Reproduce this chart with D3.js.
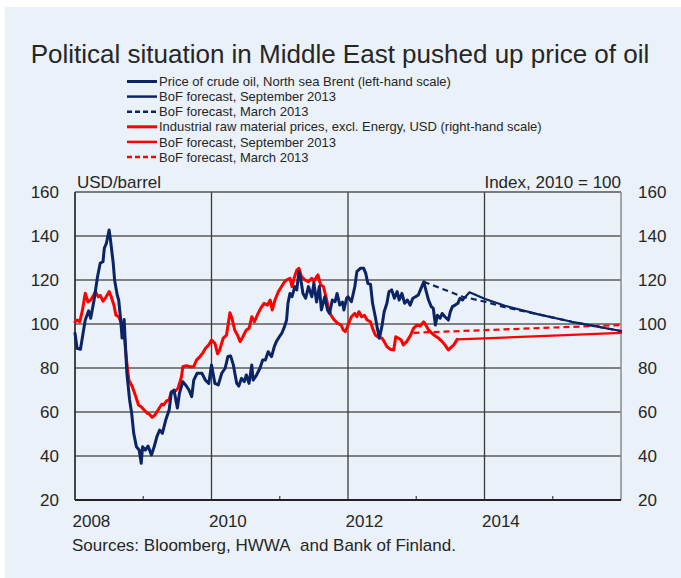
<!DOCTYPE html>
<html>
<head>
<meta charset="utf-8">
<script src="https://cdn.jsdelivr.net/npm/d3@7"></script>
<style>
  html, body { margin: 0; padding: 0; background: #ffffff; }
  svg { display: block; font-family: "Liberation Sans", Arial, Helvetica, sans-serif; }
</style>
</head>
<body>
<svg id="chart" width="681" height="578"></svg>
<script>
// ---------------- DATA ----------------
const titleText = "Political situation in Middle East pushed up price of oil";
const sourceText = "Sources: Bloomberg, HWWA\u00a0 and Bank of Finland.";
const leftUnit = "USD/barrel";
const rightUnit = "Index, 2010 = 100";
const yTicks = [20, 40, 60, 80, 100, 120, 140, 160];
const xTickYears = [2008, 2010, 2012, 2014];
const xMinorYears = [2009, 2011, 2013, 2015];

const legendLabels = [
  "Price of crude oil, North sea Brent (left-hand scale)",
  "BoF forecast, September 2013",
  "BoF forecast, March 2013",
  "Industrial raw material prices, excl. Energy, USD (right-hand scale)",
  "BoF forecast, September 2013",
  "BoF forecast, March 2013"
];

// Brent crude oil, USD/barrel (time as decimal year)
const brentTime = [
  2008.00,2008.03,2008.08,2008.15,2008.20,2008.23,2008.28,2008.33,2008.37,2008.41,2008.43,2008.46,2008.50,2008.52,2008.56,2008.58,2008.62,2008.64,2008.67,2008.69,2008.72,2008.74,2008.76,2008.80,2008.83,2008.86,2008.90,2008.94,2008.97,2008.99,
  2009.03,2009.07,2009.12,2009.16,2009.20,2009.24,2009.28,2009.33,2009.38,2009.41,2009.45,2009.50,2009.53,2009.58,2009.62,2009.67,2009.71,2009.74,2009.79,2009.86,2009.91,2009.96,
  2010.00,2010.05,2010.10,2010.15,2010.20,2010.24,2010.28,2010.32,2010.37,2010.40,2010.44,2010.48,2010.51,2010.55,2010.59,2010.61,2010.66,2010.71,2010.75,2010.79,2010.83,2010.88,2010.92,2010.95,2010.99,
  2011.03,2011.07,2011.10,2011.12,2011.15,2011.18,2011.22,2011.25,2011.28,2011.31,2011.34,2011.38,2011.42,2011.47,2011.50,2011.54,2011.58,2011.61,2011.66,2011.70,2011.73,2011.77,2011.81,2011.84,2011.88,2011.92,2011.94,2011.98,
  2012.00,2012.05,2012.10,2012.13,2012.18,2012.23,2012.26,2012.29,2012.33,2012.36,2012.40,2012.43,2012.46,2012.50,2012.53,2012.57,2012.60,2012.64,2012.68,2012.72,2012.75,2012.79,2012.83,2012.87,2012.91,2012.95,2012.99,
  2013.03,2013.07,2013.11,2013.14,2013.18,2013.22,2013.25,2013.28,2013.31,2013.35,2013.38,2013.42,2013.47,2013.50,2013.53,2013.57,2013.61,2013.64,2013.68
];
const brentValue = [
  95.8,89,88.5,101.8,106,102.6,111,121.5,127.7,128.3,134.5,136.7,142.7,138.2,127.7,120,113,110.9,101.8,93.6,102,89.7,77.7,65.5,59.5,50.4,44.2,42.7,36.7,44.2,
  42.7,44.5,40.5,44.2,48.8,51.8,50.3,56.4,61,68.6,70,61.8,68.5,73.8,72.3,70,67,74.5,77.6,77.6,74.5,73,
  81.4,73,72.3,77.6,79.9,85.2,85.5,81.4,73,71.8,75.3,73.8,76.8,73,81.4,74.5,76.8,79.9,83.6,83.6,87.4,85.2,89.7,92,94,
  95.8,98.8,101.8,109.4,113.9,112.4,117,115.5,123.8,120,113.9,111.7,117,112.4,118.5,110,117,106.4,112.4,106.4,104.8,110.9,110.1,113.9,108.6,110,106.4,111.7,
  112.4,110.1,117,123.8,125.3,125.3,123,118.5,118,109.4,103.3,98,93.5,99.5,105.6,109.4,114.7,115.5,111.7,114.7,110.9,113.9,109.4,110.9,108.6,111.7,112.4,
  113.2,116.2,119.2,115.5,110.9,107.9,107.1,99.5,104,102.6,104.8,103.3,101.8,105.6,107.9,108.6,109.4,111.7,110.9
];
const brentSepTime  = [2013.68, 2013.78, 2014.01, 2014.30, 2014.79, 2015.28, 2016.00];
const brentSepValue = [110.9, 114.4, 111.4, 108.3, 104.4, 101.0, 96.8];
const brentMarTime  = [2013.11, 2013.68, 2014.01, 2014.30, 2014.79, 2015.28, 2016.00];
const brentMarValue = [119.2, 112.4, 110.1, 107.6, 104.4, 101.0, 96.8];

// Industrial raw material prices excl. energy, index 2010 = 100
const rawTime = [
  2008.00,2008.03,2008.07,2008.11,2008.15,2008.19,2008.23,2008.27,2008.30,2008.34,2008.37,2008.41,2008.45,2008.50,2008.53,2008.57,2008.60,2008.64,2008.68,2008.72,2008.74,2008.76,2008.79,2008.84,2008.89,2008.93,2008.97,
  2009.01,2009.06,2009.09,2009.13,2009.17,2009.22,2009.27,2009.30,2009.34,2009.38,2009.41,2009.46,2009.51,2009.56,2009.58,2009.63,2009.69,2009.74,2009.78,2009.82,2009.87,2009.91,2009.96,
  2010.00,2010.05,2010.09,2010.12,2010.17,2010.22,2010.27,2010.30,2010.34,2010.38,2010.42,2010.46,2010.51,2010.55,2010.59,2010.63,2010.67,2010.72,2010.77,2010.82,2010.86,2010.89,2010.93,2010.98,
  2011.02,2011.07,2011.10,2011.15,2011.18,2011.21,2011.25,2011.28,2011.32,2011.37,2011.42,2011.47,2011.50,2011.54,2011.56,2011.60,2011.64,2011.67,2011.71,2011.75,2011.80,2011.85,2011.90,2011.93,2011.96,
  2012.00,2012.05,2012.10,2012.13,2012.16,2012.20,2012.24,2012.28,2012.33,2012.36,2012.40,2012.45,2012.50,2012.53,2012.57,2012.62,2012.67,2012.70,2012.74,2012.78,2012.81,2012.86,2012.91,2012.96,
  2013.01,2013.06,2013.11,2013.14,2013.18,2013.23,2013.28,2013.33,2013.38,2013.42,2013.47,2013.51,2013.55,2013.58,2013.60
];
const rawValue = [
  101,101.8,101,106.4,114,110,110.9,113,114.7,112.4,113,110.4,112,114.7,112.5,108.6,104,103.3,100.3,95.8,88.2,82.1,74.5,71.5,67,63.2,62.4,
  61,59.4,59,57.6,58.6,61,63.5,63.2,65,65.5,69.2,69.2,70.8,76,80.6,81,80.6,80.6,83.6,84.8,86.7,88.9,90.5,
  92.7,91.2,86.4,88.2,93.5,95,105.1,102.6,97.3,95,92,94.2,97.3,98,103.3,101,104,107.1,109.4,108.6,110.9,106.4,110.9,114.7,
  116.7,119.2,120,120.8,117,120.8,124.5,125.3,121.5,120,119.2,120.8,119.2,121.5,122.3,117.7,117,113.2,107.9,104,101.8,100.3,99.5,97.3,96.5,
  99.5,103.3,104.8,103.3,105.6,103.3,104,101.8,101,98,95,93.9,93.5,92,89.7,88.5,88.2,94.2,93.5,92.7,90.5,92,94.5,98,
  99.5,99.1,101,99.5,97.3,95.8,94.5,93.5,92,90.5,88.2,89.4,90.5,92,93
];
const rawSepTime  = [2013.60, 2014.00, 2015.00, 2016.00];
const rawSepValue = [93.0, 93.5, 94.7, 96.0];
const rawMarTime  = [2012.96, 2014.00, 2015.00, 2016.00];
const rawMarValue = [96.0, 97.2, 98.4, 99.5];

// ---------------- DRAW ----------------
const W = 681, H = 578;
const plot = { left: 75, right: 621, top: 192, bottom: 500 };
const BLUE = "#0a2466", RED = "#ff0000";
const TEXT = "#262626";

const svg = d3.select("#chart");
svg.append("rect").attr("x", 5).attr("y", 7).attr("width", W - 5).attr("height", H - 7).attr("fill", "#eaf1f8");

const x = d3.scaleLinear().domain([2008, 2016]).range([plot.left, plot.right]);
const yL = d3.scaleLinear().domain([20, 160]).range([plot.bottom, plot.top]);
const yR = d3.scaleLinear().domain([20, 160]).range([plot.bottom, plot.top]);

// Title
svg.append("text").attr("x", 340).attr("y", 63).attr("text-anchor", "middle")
  .attr("font-size", 26).attr("fill", TEXT).text(titleText);

// Legend
const legendStyles = [
  { color: BLUE, dash: null, w: 3 },
  { color: BLUE, dash: null, w: 2.5 },
  { color: BLUE, dash: "5,3", w: 2.5 },
  { color: RED, dash: null, w: 3 },
  { color: RED, dash: null, w: 2.5 },
  { color: RED, dash: "5,3", w: 2.5 }
];
const lg = svg.append("g");
legendLabels.forEach((lab, i) => {
  const cy = 81.5 + i * 15.1;
  const s = legendStyles[i];
  lg.append("line").attr("x1", 127).attr("x2", 157).attr("y1", cy).attr("y2", cy)
    .attr("stroke", s.color).attr("stroke-width", s.w).attr("stroke-dasharray", s.dash);
  lg.append("text").attr("x", 159).attr("y", cy + 4.6).attr("font-size", 13).attr("fill", TEXT).text(lab);
});

// Grid
const grid = svg.append("g");
grid.selectAll("line.h").data(yTicks.filter(v => v > 20 && v < 160)).join("line")
  .attr("x1", plot.left).attr("x2", plot.right)
  .attr("y1", d => yL(d)).attr("y2", d => yL(d))
  .attr("stroke", "#5a5a5a").attr("stroke-width", 1.3);
grid.selectAll("line.v").data(xTickYears.filter(v => v > 2008)).join("line")
  .attr("x1", d => x(d)).attr("x2", d => x(d))
  .attr("y1", plot.top).attr("y2", plot.bottom)
  .attr("stroke", "#3a3a3a").attr("stroke-width", 1.3);
grid.selectAll("line.m").data(xMinorYears).join("line")
  .attr("x1", d => x(d)).attr("x2", d => x(d))
  .attr("y1", plot.bottom - 4).attr("y2", plot.bottom)
  .attr("stroke", "#444").attr("stroke-width", 1.2);

// Frame
svg.append("line").attr("x1", plot.left).attr("x2", plot.right).attr("y1", plot.top).attr("y2", plot.top)
  .attr("stroke", "#555").attr("stroke-width", 1.5);
svg.append("line").attr("x1", plot.right).attr("x2", plot.right).attr("y1", plot.top).attr("y2", plot.bottom)
  .attr("stroke", "#8a8a8a").attr("stroke-width", 1.5);
svg.append("line").attr("x1", plot.left).attr("x2", plot.right).attr("y1", plot.bottom).attr("y2", plot.bottom)
  .attr("stroke", "#222").attr("stroke-width", 1.8);
svg.append("line").attr("x1", plot.left).attr("x2", plot.left).attr("y1", plot.top).attr("y2", plot.bottom)
  .attr("stroke", "#333").attr("stroke-width", 1.8);

// Axes (text only)
function styleAxis(g) {
  g.select(".domain").remove();
  g.selectAll(".tick line").remove();
  g.selectAll("text").attr("font-size", 17).attr("fill", TEXT)
    .attr("font-family", '"Liberation Sans", Arial, Helvetica, sans-serif');
}
svg.append("g").attr("transform", `translate(${plot.left},0)`)
  .call(d3.axisLeft(yL).tickValues(yTicks).tickSize(0).tickPadding(16).tickFormat(d3.format("d")))
  .call(styleAxis);
svg.append("g").attr("transform", `translate(${plot.right},0)`)
  .call(d3.axisRight(yR).tickValues(yTicks).tickSize(0).tickPadding(17).tickFormat(d3.format("d")))
  .call(styleAxis);
const xa = svg.append("g").attr("transform", `translate(0,${plot.bottom})`)
  .call(d3.axisBottom(x).tickValues(xTickYears).tickSize(0).tickFormat(d3.format("d")))
  .call(styleAxis);
xa.selectAll("text").attr("text-anchor", "start").attr("x", -3).attr("y", 27).attr("dy", 0);

// Unit labels
svg.append("text").attr("x", 77).attr("y", 188).attr("font-size", 17).attr("fill", TEXT).text(leftUnit);
svg.append("text").attr("x", plot.right).attr("y", 188).attr("text-anchor", "end").attr("font-size", 17).attr("fill", TEXT).text(rightUnit);

// Source
svg.append("text").attr("x", 72).attr("y", 551).attr("font-size", 17).attr("fill", TEXT).text(sourceText);

// Series
function series(times, values) {
  return times.map((t, i) => [t, values[i]]);
}
const lineL = d3.line().x(d => x(d[0])).y(d => yL(d[1]));
const lineR = d3.line().x(d => x(d[0])).y(d => yR(d[1]));
const lines = svg.append("g").attr("fill", "none").attr("stroke-linejoin", "round").attr("stroke-linecap", "round");

lines.append("path").attr("d", lineR(series(rawMarTime, rawMarValue))).attr("stroke", RED).attr("stroke-width", 2.2).attr("stroke-dasharray", "6,4").attr("stroke-linecap", "butt");
lines.append("path").attr("d", lineR(series(rawSepTime, rawSepValue))).attr("stroke", RED).attr("stroke-width", 2.2);
lines.append("path").attr("d", lineR(series(rawTime, rawValue))).attr("stroke", RED).attr("stroke-width", 3);

lines.append("path").attr("d", lineL(series(brentMarTime, brentMarValue))).attr("stroke", BLUE).attr("stroke-width", 2.2).attr("stroke-dasharray", "6,4").attr("stroke-linecap", "butt");
lines.append("path").attr("d", lineL(series(brentSepTime, brentSepValue))).attr("stroke", BLUE).attr("stroke-width", 2.2);
lines.append("path").attr("d", lineL(series(brentTime, brentValue))).attr("stroke", BLUE).attr("stroke-width", 3);
</script>
</body>
</html>
